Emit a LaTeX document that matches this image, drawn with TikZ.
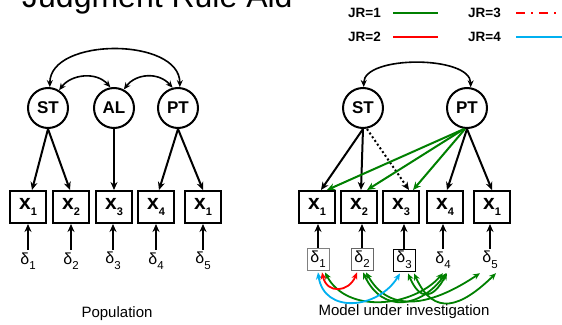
\documentclass[tikz,border=0pt]{standalone}
\usepackage{fontspec}
\setmainfont{Liberation Sans}
\usetikzlibrary{arrows.meta,calc}
\definecolor{jrgreen}{RGB}{0,128,0}
\definecolor{jrred}{RGB}{255,0,0}
\definecolor{jrcyan}{RGB}{0,176,240}
\newcommand\xsub[1]{x\raisebox{-0.28em}{\fontsize{11}{11}\selectfont #1}}
\newcommand\dsub[1]{δ\raisebox{-0.35em}{\fontsize{11.5}{11.5}\selectfont #1}}
\begin{document}
\begin{tikzpicture}[x=1pt,y=-1pt,
  lat/.style={circle,draw,line width=2pt,minimum size=40pt,inner sep=0pt,font=\fontsize{17}{17}\selectfont\bfseries},
  obs/.style={draw,line width=2.4pt,minimum width=35.6pt,minimum height=31.6pt,inner sep=0pt,font=\fontsize{21}{21}\selectfont\bfseries},
  err/.style={inner sep=0pt,minimum width=22pt,minimum height=22pt,font=\fontsize{16}{16}\selectfont},
  errbox/.style={err,draw,line width=0.8pt},
  arr/.style={line width=2pt,-{Stealth[length=8pt,width=7pt]}},
  cov/.style={line width=1.6pt,{Stealth[length=7pt,width=6pt]}-{Stealth[length=7pt,width=6pt]}},
  ecov/.style={line width=1.8pt,{Stealth[length=7pt,width=6pt]}-{Stealth[length=7pt,width=6pt]}},
  leg/.style={font=\fontsize{13.5}{13.5}\selectfont\bfseries},
  caption/.style={font=\fontsize{15}{15}\selectfont}
]
\useasboundingbox (0,0) rectangle (562,324);
\fill[white] (0,0) rectangle (562,324);

% title (cut off at top, as in the reference)
\node[anchor=base west,inner sep=0pt,font=\fontsize{32}{32}\selectfont] (title) at (22,7) {Judgment Rule Aid};

% legend
\node[leg,anchor=west,inner sep=0pt] (jr1) at (348,13) {JR=1};
\node[leg,anchor=west,inner sep=0pt] (jr2) at (348,37) {JR=2};
\node[leg,anchor=west,inner sep=0pt] (jr3) at (468,13) {JR=3};
\node[leg,anchor=west,inner sep=0pt] (jr4) at (468,37) {JR=4};
\coordinate (l1a) at (393,13); \coordinate (l1b) at (438,13);
\coordinate (l2a) at (393,37); \coordinate (l2b) at (438,37);
\coordinate (l3a) at (516,13); \coordinate (l3b) at (556,13);
\coordinate (l4a) at (516,37); \coordinate (l4b) at (562,37);
\draw[jrgreen,line width=1.8pt] (l1a) -- (l1b);
\draw[jrred,line width=1.8pt] (l2a) -- (l2b);
\draw[jrred,line width=1.8pt,dash pattern=on 9pt off 6pt on 2pt off 6pt] (l3a) -- (l3b);
\draw[jrcyan,line width=1.8pt] (l4a) -- (l4b);

% ---------------- left: population ----------------
\node[lat] (lST) at (48,108) {ST};
\node[lat] (lAL) at (114,108) {AL};
\node[lat] (lPT) at (178,108) {PT};

\node[obs] (lx1) at (28,207) {\xsub{1}};
\node[obs] (lx2) at (71,207) {\xsub{2}};
\node[obs] (lx3) at (114,207) {\xsub{3}};
\node[obs] (lx4) at (156,207) {\xsub{4}};
\node[obs] (lx5) at (203,207) {\xsub{1}};

\node[err] (ld1) at (28,261) {\dsub{1}};
\node[err] (ld2) at (71,261) {\dsub{2}};
\node[err] (ld3) at (113,261) {\dsub{3}};
\node[err] (ld4) at (156,261) {\dsub{4}};
\node[err] (ld5) at (203,261) {\dsub{5}};

\draw[cov] (lST.85) .. controls ($(lST.85)+(0,-50)$) and ($(lPT.85)+(0,-50)$) .. (lPT.85);
\draw[cov] (lST.58) .. controls ($(lST.58)+(12,-16)$) and ($(lAL.100)+(-14,-16)$) .. (lAL.100);
\draw[cov] (lAL.62) .. controls ($(lAL.62)+(12,-16)$) and ($(lPT.105)+(-14,-16)$) .. (lPT.105);

\draw[arr] (lST.south) -- ([xshift=4pt]lx1.north);
\draw[arr] (lST.south) -- ([xshift=-1pt]lx2.north);
\draw[arr] (lAL.south) -- (lx3.north);
\draw[arr] (lPT.south) -- ([xshift=3pt]lx4.north);
\draw[arr] (lPT.south) -- (lx5.north);

\foreach \i in {1,...,5}{\draw[arr] (ld\i.north) -- (ld\i.north |- lx\i.south);}

\node[caption] (pop) at (117,314) {Population};

% ---------------- right: model ----------------
\node[lat] (rST) at (363,108) {ST};
\node[lat] (rPT) at (467,108) {PT};

\node[obs] (rx1) at (317,207) {\xsub{1}};
\node[obs] (rx2) at (359,207) {\xsub{2}};
\node[obs] (rx3) at (401,207) {\xsub{3}};
\node[obs] (rx4) at (445,207) {\xsub{4}};
\node[obs] (rx5) at (492,207) {\xsub{1}};

\node[errbox,draw=gray] (rd1) at (318,259) {\dsub{1}};
\node[errbox,draw=gray!80!black] (rd2) at (362,259) {\dsub{2}};
\node[errbox,draw=black] (rd3) at (404,260) {\dsub{3}};
\node[err] (rd4) at (443,260) {\dsub{4}};
\node[err] (rd5) at (490,260) {\dsub{5}};

\draw[cov] (rST.88) .. controls ($(rST.88)+(0,-32)$) and ($(rPT.80)+(0,-32)$) .. (rPT.80);

\draw[arr] (rST.south) -- ([xshift=4pt]rx1.north);
\draw[arr] (rST.south) -- ([xshift=2pt]rx2.north);
\draw[arr,dash pattern=on 2pt off 2.5pt] ([xshift=4pt]rST.south) -- ([xshift=8pt]rx3.north);
\draw[arr] (rPT.south) -- ([xshift=2pt]rx4.north);
\draw[arr] (rPT.south) -- (rx5.north);

\draw[arr,jrgreen] ([xshift=-3pt]rPT.south) -- ([xshift=10pt]rx1.north);
\draw[arr,jrgreen] ([xshift=-3pt]rPT.south) -- ([xshift=8pt]rx2.north);
\draw[arr,jrgreen] ([xshift=-2pt]rPT.south) -- ([xshift=12pt]rx3.north);

\foreach \i in {1,...,5}{\draw[arr] (rd\i.north) -- (rd\i.north |- rx\i.south);}

% correlated errors
\draw[ecov,jrgreen] ([xshift=7pt,yshift=-2pt]rd1.south) .. controls ($([xshift=7pt,yshift=-2pt]rd1.south)+(22,42)$) and ($([yshift=-2pt]rd4.south)+(-30,34)$) .. ([yshift=-2pt]rd4.south);
\draw[ecov,jrgreen] ([xshift=1pt,yshift=-2pt]rd2.south) .. controls ($([xshift=1pt,yshift=-2pt]rd2.south)+(20,42)$) and ($([xshift=3pt,yshift=-2pt]rd4.south)+(-25,34)$) .. ([xshift=3pt,yshift=-2pt]rd4.south);
\draw[ecov,jrgreen] ([xshift=4pt,yshift=-2pt]rd2.south) .. controls ($([xshift=4pt,yshift=-2pt]rd2.south)+(25,44)$) and ($([xshift=-10pt,yshift=-2pt]rd5.south)+(-45,30)$) .. ([xshift=-10pt,yshift=-2pt]rd5.south);
\draw[ecov,jrgreen] ([xshift=4pt,yshift=-2pt]rd3.south) .. controls ($([xshift=4pt,yshift=-2pt]rd3.south)+(12,28)$) and ($([xshift=4pt,yshift=-2pt]rd4.south)+(-14,26)$) .. ([xshift=4pt,yshift=-2pt]rd4.south);
\draw[ecov,jrgreen] ([xshift=10pt,yshift=-2pt]rd3.south) .. controls ($([xshift=10pt,yshift=-2pt]rd3.south)+(20,44)$) and ($([xshift=6pt,yshift=-2pt]rd5.south)+(-35,34)$) .. ([xshift=6pt,yshift=-2pt]rd5.south);
\draw[ecov,jrcyan] ([xshift=0pt,yshift=-2pt]rd1.south) .. controls ($([yshift=-2pt]rd1.south)+(6,42)$) and ($([xshift=-4pt,yshift=-2pt]rd3.south)+(-22,36)$) .. ([xshift=-4pt,yshift=-2pt]rd3.south);
\draw[ecov,jrred] ([xshift=4pt,yshift=-2pt]rd1.south) .. controls ($([xshift=4pt,yshift=-2pt]rd1.south)+(5,22)$) and ($([xshift=-5pt,yshift=-2pt]rd2.south)+(-8,20)$) .. ([xshift=-5pt,yshift=-2pt]rd2.south);

\node[caption] (model) at (404,312) {Model under investigation};
\end{tikzpicture}
\end{document}
